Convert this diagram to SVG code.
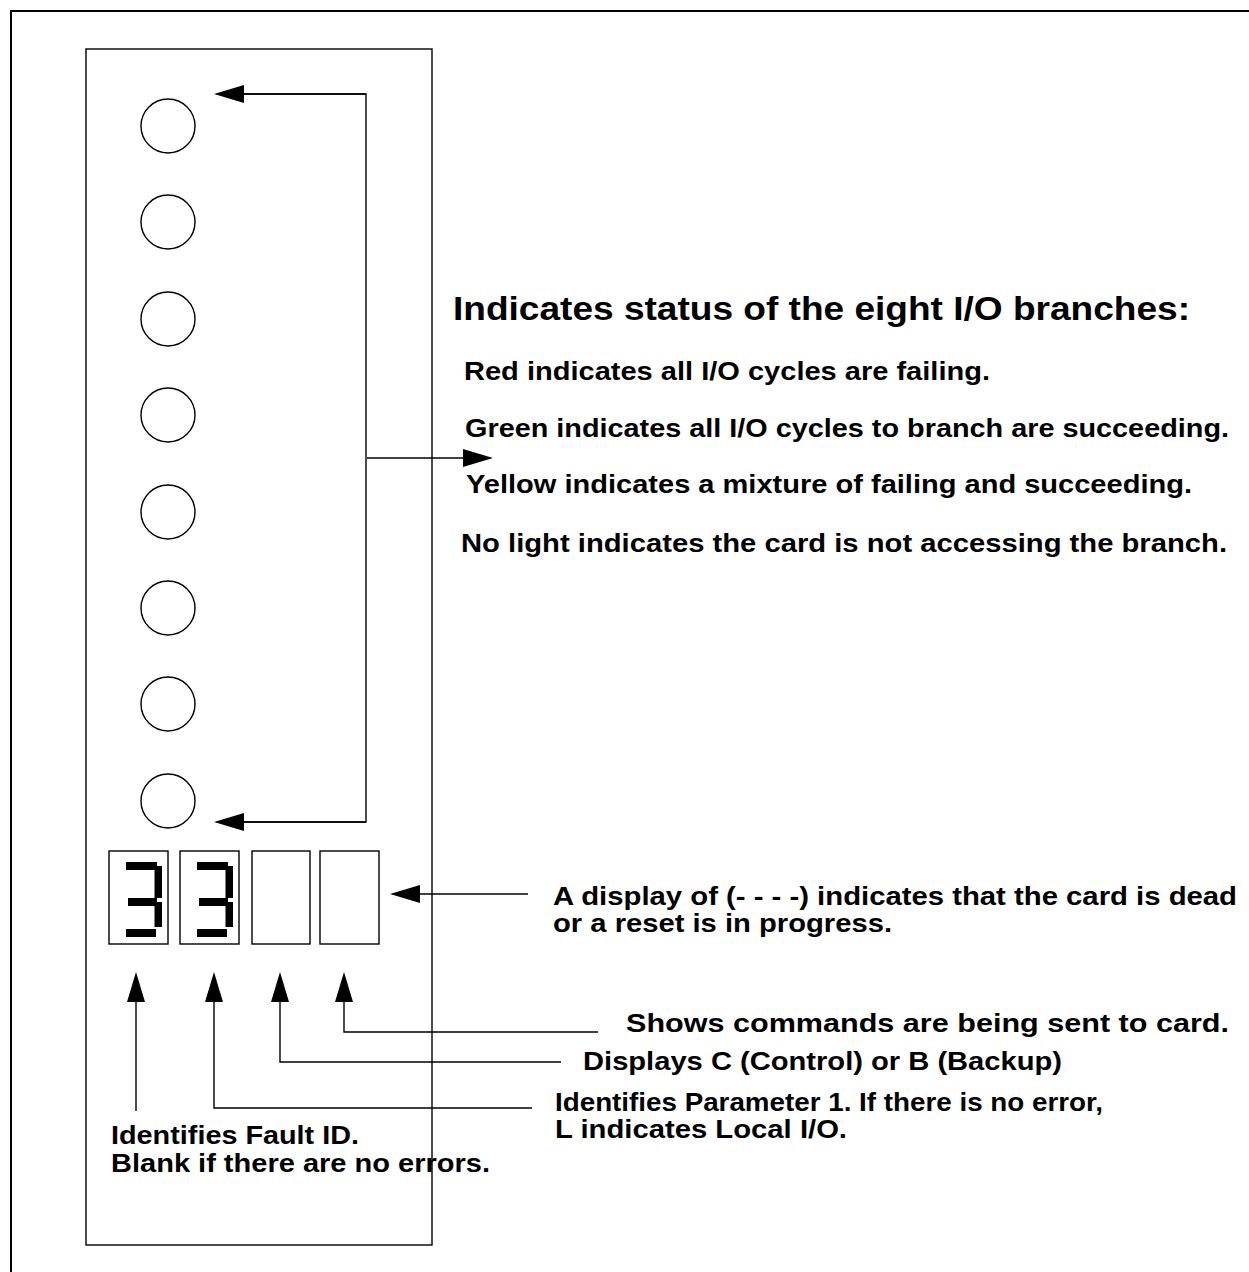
<svg xmlns="http://www.w3.org/2000/svg" width="1249" height="1272" viewBox="0 0 1249 1272">
<style>
.ln{fill:none;stroke:#000;stroke-width:1.4}
.t{font-family:"Liberation Sans",Arial,sans-serif;font-weight:bold;font-size:25px;fill:#000}
.title{font-size:33px}
.seg{fill:#000;stroke:none}
</style>
<defs>
<marker id="ah" markerUnits="userSpaceOnUse" viewBox="0 0 30 18" markerWidth="30" markerHeight="18" refX="0" refY="9" orient="auto">
<path d="M0,0 L30,9 L0,18 z" fill="#000"/>
</marker>
</defs>
<rect x="0" y="0" width="1249" height="1272" fill="#fff"/>
<path d="M11,1272 V11 H1249" fill="none" stroke="#000" stroke-width="2"/>
<g id="panel">
<rect class="ln" x="86" y="49" width="346" height="1196"/>
</g>
<g id="leds">
<circle class="ln" cx="168" cy="126" r="27"/>
<circle class="ln" cx="168" cy="222" r="27"/>
<circle class="ln" cx="168" cy="319" r="27"/>
<circle class="ln" cx="168" cy="415" r="27"/>
<circle class="ln" cx="168" cy="512" r="27"/>
<circle class="ln" cx="168" cy="608" r="27"/>
<circle class="ln" cx="168" cy="704" r="27"/>
<circle class="ln" cx="168" cy="801" r="27"/>
</g>
<g id="display">
<rect class="ln" x="109" y="851" width="59" height="93"/>
<rect class="ln" x="180" y="851" width="59" height="93"/>
<rect class="ln" x="252" y="851" width="58" height="93"/>
<rect class="ln" x="320" y="851" width="59" height="93"/>
<g id="digit1">
<rect class="seg" x="126" y="862" width="31" height="8"/>
<rect class="seg" x="154.5" y="866" width="7.5" height="32"/>
<rect class="seg" x="128" y="898" width="29" height="8"/>
<rect class="seg" x="154.5" y="902" width="7.5" height="25"/>
<rect class="seg" x="126" y="929" width="30" height="8"/>
</g>
<g id="digit2" transform="translate(71,0)">
<rect class="seg" x="126" y="862" width="31" height="8"/>
<rect class="seg" x="154.5" y="866" width="7.5" height="32"/>
<rect class="seg" x="128" y="898" width="29" height="8"/>
<rect class="seg" x="154.5" y="902" width="7.5" height="25"/>
<rect class="seg" x="126" y="929" width="30" height="8"/>
</g>
</g>
<g id="connectors">
<path class="ln" d="M244,94 H366 V822 H244" />
<path class="ln" d="M366,94 H244" marker-end="url(#ah)"/>
<path class="ln" d="M366,822 H244" marker-end="url(#ah)"/>
<path class="ln" d="M367,458 H463" marker-end="url(#ah)"/>
<path class="ln" d="M528,894 H420" marker-end="url(#ah)"/>
<path class="ln" d="M136,1111 V1002" marker-end="url(#ah)"/>
<path class="ln" d="M532,1108 H214 V1002" marker-end="url(#ah)"/>
<path class="ln" d="M561,1062 H280 V1002" marker-end="url(#ah)"/>
<path class="ln" d="M598,1032 H344 V1002" marker-end="url(#ah)"/>
</g>
<g id="status-text">
<text class="t title" x="453" y="320" textLength="737" lengthAdjust="spacingAndGlyphs">Indicates status of the eight I/O branches:</text>
<text class="t" x="464" y="380" textLength="526" lengthAdjust="spacingAndGlyphs">Red indicates all I/O cycles are failing.</text>
<text class="t" x="465" y="437" textLength="764" lengthAdjust="spacingAndGlyphs">Green indicates all I/O cycles to branch are succeeding.</text>
<text class="t" x="466" y="493" textLength="726" lengthAdjust="spacingAndGlyphs">Yellow indicates a mixture of failing and succeeding.</text>
<text class="t" x="461" y="552" textLength="766" lengthAdjust="spacingAndGlyphs">No light indicates the card is not accessing the branch.</text>
</g>
<g id="display-text">
<text class="t" x="553" y="905" textLength="684" lengthAdjust="spacingAndGlyphs">A display of (- - - -) indicates that the card is dead</text>
<text class="t" x="553" y="932" textLength="339" lengthAdjust="spacingAndGlyphs">or a reset is in progress.</text>
</g>
<g id="commands-text">
<text class="t" x="626" y="1032" textLength="603" lengthAdjust="spacingAndGlyphs">Shows commands are being sent to card.</text>
</g>
<g id="control-text">
<text class="t" x="583" y="1070" textLength="479" lengthAdjust="spacingAndGlyphs">Displays C (Control) or B (Backup)</text>
</g>
<g id="param-text">
<text class="t" x="555" y="1111" textLength="548" lengthAdjust="spacingAndGlyphs">Identifies Parameter 1. If there is no error,</text>
<text class="t" x="555" y="1138" textLength="292" lengthAdjust="spacingAndGlyphs">L indicates Local I/O.</text>
</g>
<g id="fault-text">
<text class="t" x="111" y="1144" textLength="248" lengthAdjust="spacingAndGlyphs">Identifies Fault ID.</text>
<text class="t" x="111" y="1172" textLength="379" lengthAdjust="spacingAndGlyphs">Blank if there are no errors.</text>
</g>
</svg>
